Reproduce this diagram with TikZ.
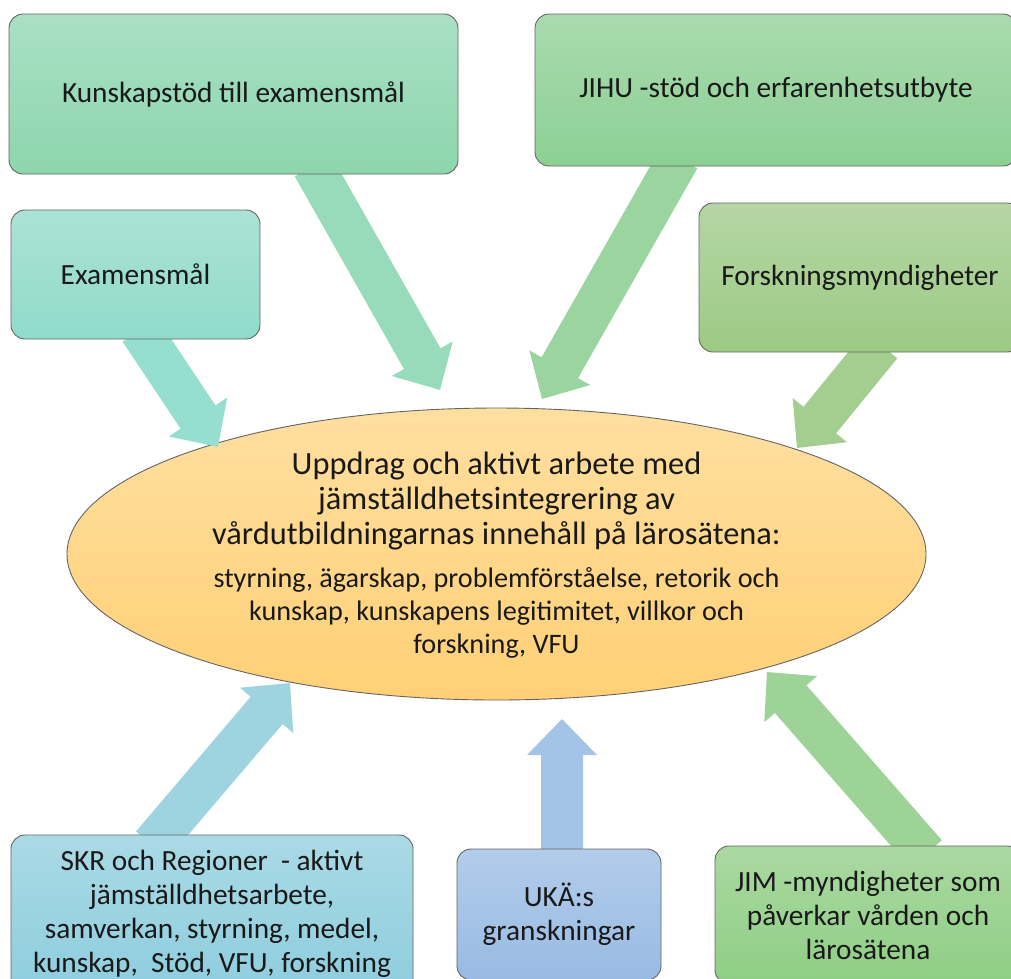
\documentclass[tikz,border=0pt]{standalone}
\usepackage{fontspec}
\setmainfont{Carlito}
\usetikzlibrary{calc,shapes.geometric}
\definecolor{boxline}{RGB}{100,100,100}
\definecolor{kTop}{RGB}{170,224,197}\definecolor{kBot}{RGB}{140,214,173}
\definecolor{jTop}{RGB}{170,218,175}\definecolor{jBot}{RGB}{140,208,148}
\definecolor{eTop}{RGB}{171,226,214}\definecolor{eBot}{RGB}{144,219,203}
\definecolor{fTop}{RGB}{182,214,165}\definecolor{fBot}{RGB}{156,202,132}
\definecolor{sTop}{RGB}{170,218,229}\definecolor{sBot}{RGB}{142,205,222}
\definecolor{uTop}{RGB}{178,205,235}\definecolor{uBot}{RGB}{152,186,227}
\definecolor{mTop}{RGB}{170,217,162}\definecolor{mBot}{RGB}{142,206,132}
\definecolor{oTop}{RGB}{255,223,160}\definecolor{oBot}{RGB}{255,208,118}
\definecolor{kArr}{RGB}{152,219,186}
\definecolor{jArr}{RGB}{154,213,160}
\definecolor{eArr}{RGB}{150,222,208}
\definecolor{fArr}{RGB}{164,206,144}
\definecolor{sArr}{RGB}{158,212,224}
\definecolor{uArr}{RGB}{164,196,231}
\definecolor{mArr}{RGB}{158,211,152}
\tikzset{
  box/.style={draw=boxline, line width=0.9pt, rounded corners=14pt, inner sep=0pt,
    align=center, font=\fontsize{29.3}{34}\selectfont, text=black!90},
  core/.style={ellipse, draw=boxline, line width=0.9pt, inner sep=0pt,
    top color=oTop, bottom color=oBot},
  coretitle/.style={align=center, font=\fontsize{32.4}{35}\selectfont, text=black!90, inner sep=0pt},
  coresub/.style={align=center, font=\fontsize{28.2}{33}\selectfont, text=black!90, inner sep=0pt},
}
\newcommand\blockarrow[4]{%
  \coordinate (#4h) at ($(#3)!36pt!(#2)$);
  \fill[#1] ($(#2)!21pt!90:(#3)$) -- ($(#4h)!21pt!90:(#3)$) -- ($(#4h)!35pt!90:(#3)$)
    -- (#3) -- ($(#4h)!35pt!-90:(#3)$) -- ($(#4h)!21pt!-90:(#3)$)
    -- ($(#2)!21pt!-90:(#3)$) -- cycle;}
\begin{document}
\begin{tikzpicture}[x=1pt,y=1pt]
\useasboundingbox (0,0) rectangle (1011,-978);
\clip (0,0) rectangle (1011,-978);
% ellipse
\node[core, minimum width=859pt, minimum height=292pt] (c) at (496.5,-554) {};
\node[coretitle] (ct) at (496.5,-501) {Uppdrag och aktivt arbete med\\jämställdhetsintegrering av\\vårdutbildningarnas innehåll på lärosätena:};
\node[coresub] (cs) at (496.5,-613) {styrning, ägarskap, problemförståelse, retorik och\\kunskap, kunskapens legitimitet, villkor och\\forskning, VFU};
% arrow end points
\coordinate (eS) at (140,-330);   \coordinate (eT) at (218,-447);
\coordinate (kS) at (313,-166);   \coordinate (kT) at (440,-390);
\coordinate (jS) at (679,-158);   \coordinate (jT) at (542,-399);
\coordinate (fS) at (881,-345);   \coordinate (fT) at (797,-448);
\coordinate (sS) at (152,-845);   \coordinate (sT) at (290,-683);
\coordinate (uS) at (562,-860);   \coordinate (uT) at (562,-719);
\coordinate (mS) at (926,-854);   \coordinate (mT) at (767,-672);
\blockarrow{eArr}{eS}{eT}{ea}
\blockarrow{kArr}{kS}{kT}{ka}
\blockarrow{jArr}{jS}{jT}{ja}
\blockarrow{fArr}{fS}{fT}{fa}
\blockarrow{sArr}{sS}{sT}{sa}
\blockarrow{uArr}{uS}{uT}{ua}
\blockarrow{mArr}{mS}{mT}{ma}
% boxes
\node[box, top color=kTop, bottom color=kBot, minimum width=449pt, minimum height=160pt] (k) at (233.5,-94) {Kunskapstöd till examensmål};
\node[box, top color=jTop, bottom color=jBot, minimum width=482pt, minimum height=152pt] (j) at (776,-90) {JIHU -stöd och erfarenhetsutbyte};
\node[box, top color=eTop, bottom color=eBot, minimum width=249pt, minimum height=129pt] (e) at (135.5,-274.5) {Examensmål};
\node[box, top color=fTop, bottom color=fBot, minimum width=322pt, minimum height=149pt] (f) at (860,-277.5) {Forskningsmyndigheter};
\node[box, top color=sTop, bottom color=sBot, minimum width=402pt, minimum height=158pt] (s) at (212,-914) {SKR och Regioner\ \ - aktivt\\jämställdhetsarbete,\\samverkan, styrning, medel,\\kunskap,\ \ Stöd, VFU, forskning};
\node[box, top color=uTop, bottom color=uBot, minimum width=204pt, minimum height=131pt] (u) at (559,-914.5) {UKÄ:s\\granskningar};
\node[box, top color=mTop, bottom color=mBot, minimum width=306pt, minimum height=138pt] (m) at (868,-915) {JIM -myndigheter som\\påverkar vården och\\lärosätena};
\end{tikzpicture}
\end{document}
